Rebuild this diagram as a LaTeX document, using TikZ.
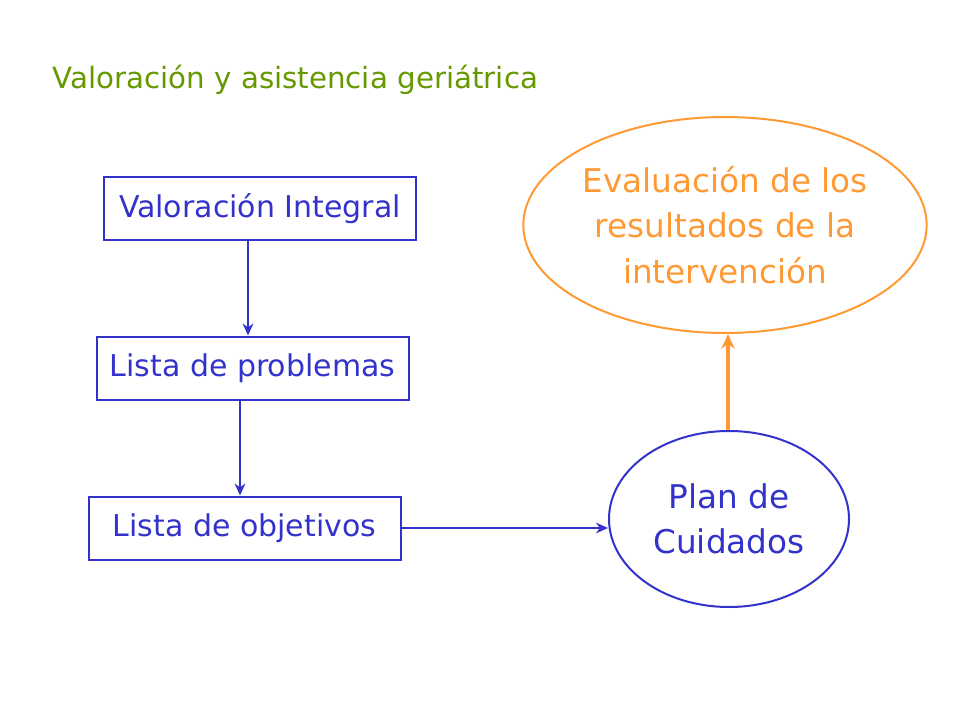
\documentclass[tikz,border=0pt]{standalone}
\usepackage{fontspec}
\setmainfont{DejaVu Sans}
\usetikzlibrary{arrows.meta,shapes.geometric}
\definecolor{myblue}{RGB}{51,51,204}
\definecolor{myorange}{RGB}{255,153,51}
\definecolor{mygreen}{RGB}{102,153,0}
\begin{document}
\begin{tikzpicture}[x=0.75pt,y=-0.75pt,
  box/.style={draw=myblue,line width=1.5pt,minimum width=312*0.75pt,minimum height=63*0.75pt,text=myblue,font=\fontsize{22.5}{26}\selectfont,inner sep=0pt},
  arr/.style={draw=myblue,line width=1.3pt,-{Stealth[length=9pt,width=8pt]}}]
\useasboundingbox (0,0) rectangle (960,720);
\node[anchor=west,text=mygreen,font=\fontsize{22}{26}\selectfont,inner sep=0pt] (title) at (52,80) {Valoración y asistencia geriátrica};
\node[box] (b1) at (260,208.5) {Valoración Integral};
\node[box] (b2) at (252.5,368) {Lista de problemas};
\node[box] (b3) at (244.5,528) {Lista de objetivos};
\node[draw=myblue,line width=1.5pt,ellipse,minimum width=240*0.75pt,minimum height=176*0.75pt,inner sep=0pt,text=myblue,align=center,font=\fontsize{24.5}{34}\selectfont] (plan) at (729,519) {Plan de\\Cuidados};
\node[draw=myorange,line width=1.5pt,ellipse,minimum width=378*0.75pt,minimum height=216*0.75pt,inner sep=0pt,text=myorange,align=center,font=\fontsize{24.5}{34}\selectfont] (eval) at (725,225) {Evaluación de los\\resultados de la\\intervención};
\draw[arr] (b1.south -| 248,0) -- (b2.north -| 248,0);
\draw[arr] (b2.south -| 240,0) -- (b3.north -| 240,0);
\draw[arr] (b3.east) -- (b3.east -| plan.west);
\draw[draw=myorange,line width=2.5pt,-{Stealth[length=11pt,width=10pt]}] (plan.north -| 728,0) -- (eval.south -| 728,0);
\end{tikzpicture}
\end{document}
